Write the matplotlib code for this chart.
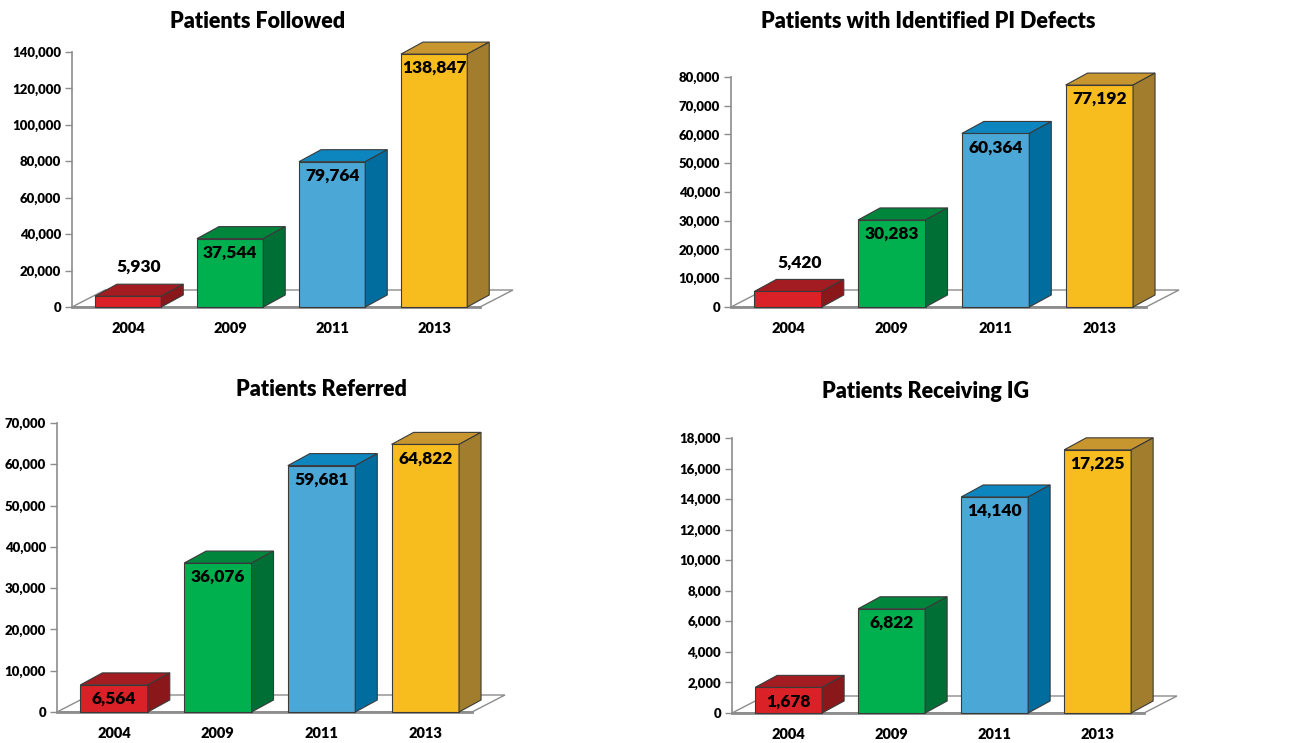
"""
Four pseudo-3D bar panels: patient counts by registry year.
"""

import matplotlib
matplotlib.use("Agg")
import matplotlib.pyplot as plt
from matplotlib.patches import Polygon
from matplotlib.ticker import FuncFormatter

plt.rcParams["font.family"] = ["Lato", "DejaVu Sans"]
WEIGHT = "heavy"

years = ["2004", "2009", "2011", "2013"]

followed = [5930, 37544, 79764, 138847]
pi_defects = [5420, 30283, 60364, 77192]
referred = [6564, 36076, 59681, 64822]
receiving_ig = [1678, 6822, 14140, 17225]

titles = [
    "Patients Followed",
    "Patients with Identified PI Defects",
    "Patients Referred",
    "Patients Receiving IG",
]
y_max = [140000, 80000, 70000, 18000]
y_step = [20000, 10000, 10000, 2000]

front_colors = ["#DA2128", "#00B04F", "#4BA7D5", "#F7BD1F"]
top_colors = ["#A31C22", "#00853D", "#0D86BF", "#C7962E"]
side_colors = ["#8A1719", "#006F35", "#006D9E", "#A17D2D"]

W, H = 1304, 743
# axes boxes in pixels: left, top, width, height ; title centre (x, y)
boxes = [
    (72, 52, 408, 255),
    (731, 77, 415, 230),
    (57, 423, 415, 289),
    (732, 438, 412, 275),
]
title_pos = [(258, 22), (928, 22), (321, 390), (926, 392)]

XLIM = (-0.55, 3.45)
BAR_W = 0.65
BAR_DEPTH = (22, 12)    # px
FLOOR_DEPTH = (33, 17)  # px
EDGE = "#3a3a3a"
GRAY = "#8c8c8c"

fig = plt.figure(figsize=(W / 100, H / 100), dpi=100)


def draw_panel(ax, values, box, ymax, step):
    left, top, wpx, hpx = box
    ax.set_xlim(*XLIM)
    ax.set_ylim(0, ymax)
    ux = (XLIM[1] - XLIM[0]) / wpx   # data units per pixel
    uy = ymax / hpx
    bdx, bdy = BAR_DEPTH[0] * ux, BAR_DEPTH[1] * uy
    fdx, fdy = FLOOR_DEPTH[0] * ux, FLOOR_DEPTH[1] * uy

    # floor
    x0, x1 = XLIM
    floor = Polygon([(x0, 0), (x1, 0), (x1 + fdx, fdy), (x0 + fdx, fdy)],
                    closed=True, facecolor="white", edgecolor=GRAY,
                    linewidth=1.0, clip_on=False, zorder=1)
    ax.add_patch(floor)
    ax.plot([x0, x1], [0, 0], color=GRAY, lw=2, clip_on=False, zorder=1.5)

    xs = range(len(values))
    ax.bar(xs, values, width=BAR_W, color=front_colors, edgecolor=EDGE,
           linewidth=0.8, zorder=3, clip_on=False)
    for i, v in enumerate(values):
        a, b = i - BAR_W / 2, i + BAR_W / 2
        ax.add_patch(Polygon([(a, v), (b, v), (b + bdx, v + bdy), (a + bdx, v + bdy)],
                             facecolor=top_colors[i], edgecolor=EDGE, lw=0.8,
                             clip_on=False, zorder=3))
        ax.add_patch(Polygon([(b, 0), (b + bdx, bdy), (b + bdx, v + bdy), (b, v)],
                             facecolor=side_colors[i], edgecolor=EDGE, lw=0.8,
                             clip_on=False, zorder=3))
        label = f"{v:,}"
        if v / uy < 20:
            off = (8, 21)
        else:
            off = (0, -10)
        ax.annotate(label, (i, v), xytext=off, textcoords="offset points",
                    ha="center", va="center", fontsize=12.5, fontweight=WEIGHT,
                    zorder=5)

    ax.set_yticks(range(0, ymax + 1, step))
    ax.yaxis.set_major_formatter(FuncFormatter(lambda v, p: f"{int(v):,}"))
    ax.tick_params(axis="y", length=5, width=1, color=GRAY, labelsize=9.5, pad=3)
    ax.set_xticks(list(xs))
    ax.set_xticklabels(years, fontsize=10.5, fontweight=WEIGHT)
    ax.tick_params(axis="x", length=0, pad=11)
    for lbl in ax.get_yticklabels():
        lbl.set_fontweight(WEIGHT)

    for s in ("top", "right", "bottom"):
        ax.spines[s].set_visible(False)
    ax.spines["left"].set_color(GRAY)
    ax.spines["left"].set_linewidth(1.2)
    ax.patch.set_visible(False)


series = [followed, pi_defects, referred, receiving_ig]
for k in range(4):
    left, top, wpx, hpx = boxes[k]
    ax = fig.add_axes([left / W, 1 - (top + hpx) / H, wpx / W, hpx / H])
    draw_panel(ax, series[k], boxes[k], y_max[k], y_step[k])
    tx, ty = title_pos[k]
    fig.text(tx / W, 1 - ty / H, titles[k], ha="center", va="center",
             fontsize=15.5, fontweight=WEIGHT)

fig.savefig("out.png", dpi=100)
